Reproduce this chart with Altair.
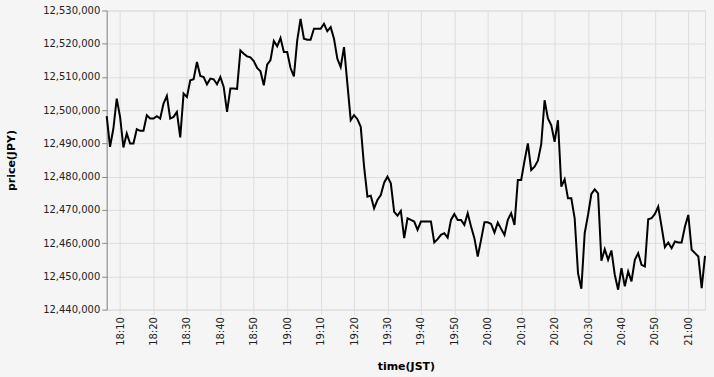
import altair as alt
import pandas as pd

start_time = "2021-01-01 18:06:00"
prices = [
    12498200, 12489000, 12494500, 12503500, 12498000, 12488800, 12493000, 12490000, 12490000, 12494300,
    12493800, 12493800, 12498500, 12497500, 12497500, 12498200, 12497500, 12502000, 12504300, 12497500,
    12498000, 12499500, 12491800, 12505000, 12504000, 12509000, 12509300, 12514500, 12510300, 12510000,
    12507800, 12509500, 12509300, 12507800, 12510000, 12507000, 12499500, 12506500, 12506500, 12506400,
    12518000, 12517000, 12516200, 12515900, 12514800, 12512700, 12511700, 12507500, 12513700, 12515100,
    12520800, 12519200, 12521700, 12517500, 12517500, 12512700, 12510200, 12521000, 12527500, 12521500,
    12521200, 12521200, 12524500, 12524500, 12524500, 12526000, 12523800, 12525000, 12521500, 12515500,
    12513000, 12519000, 12508000, 12497000, 12498500, 12497300, 12495000, 12483000, 12474000, 12474300,
    12470500, 12473000, 12474500, 12478200, 12480000, 12478000, 12469400, 12468300, 12469700, 12461500,
    12467500, 12467000, 12466500, 12464000, 12466500, 12466500, 12466500, 12466500, 12460200, 12461200,
    12462500, 12463000, 12461700, 12467000, 12468800, 12467000, 12467000, 12465500, 12469000, 12465000,
    12461500, 12456000, 12461000, 12466300, 12466300, 12465800, 12463200, 12466200, 12464300, 12462500,
    12467000, 12469000, 12465500, 12479000, 12479000, 12484800, 12490000, 12482000, 12483000, 12484800,
    12489800, 12503000, 12497500, 12495500, 12490500, 12497000, 12477000, 12479200, 12473500, 12473500,
    12467500, 12451000, 12446300, 12463000, 12468500, 12474800, 12476200, 12475000, 12454700, 12458200,
    12455000, 12457800, 12450500, 12446000, 12452500, 12447000, 12451500, 12448500, 12455000, 12457000,
    12453500, 12453000, 12467200, 12467500, 12468800, 12471000, 12465000, 12458800, 12460200, 12458500,
    12460500, 12460200, 12460200, 12465000, 12468500, 12458000, 12457000, 12456000, 12446500, 12456200,
]
tick_times = ["18:10", "18:20", "18:30", "18:40", "18:50", "19:00", "19:10", "19:20", "19:30",
              "19:40", "19:50", "20:00", "20:10", "20:20", "20:30", "20:40", "20:50", "21:00"]
y_domain = [12440000, 12530000]

times = pd.date_range(start_time, periods=len(prices), freq="min")
df = pd.DataFrame({"time": times.strftime("%Y-%m-%dT%H:%M:%S"), "price": prices})

tick_values = [
    alt.DateTime(year=2021, month=1, date=1, hours=int(t[:2]), minutes=int(t[3:]))
    for t in tick_times
]

chart = (
    alt.Chart(df)
    .mark_line(color="black", strokeWidth=2)
    .encode(
        x=alt.X(
            "time:T",
            title="time(JST)",
            axis=alt.Axis(
                format="%H:%M",
                labelAngle=270,
                values=tick_values,
                domain=False,
                tickColor="#dddddd",
                titlePadding=15,
            ),
        ),
        y=alt.Y(
            "price:Q",
            title="price(JPY)",
            scale=alt.Scale(domain=y_domain, zero=False),
            axis=alt.Axis(format=",d", tickCount=10, titlePadding=26),
        ),
    )
    .properties(width=600, height=300, background="#f5f5f5")
    .configure(font="DejaVu Sans")
    .configure_axis(labelFont="DejaVu Sans", titleFont="DejaVu Sans", labelFontSize=10,
                    titleFontSize=11, labelColor="#222222")
)

chart.save("out.html", embed_options={"renderer": "svg", "actions": False})
